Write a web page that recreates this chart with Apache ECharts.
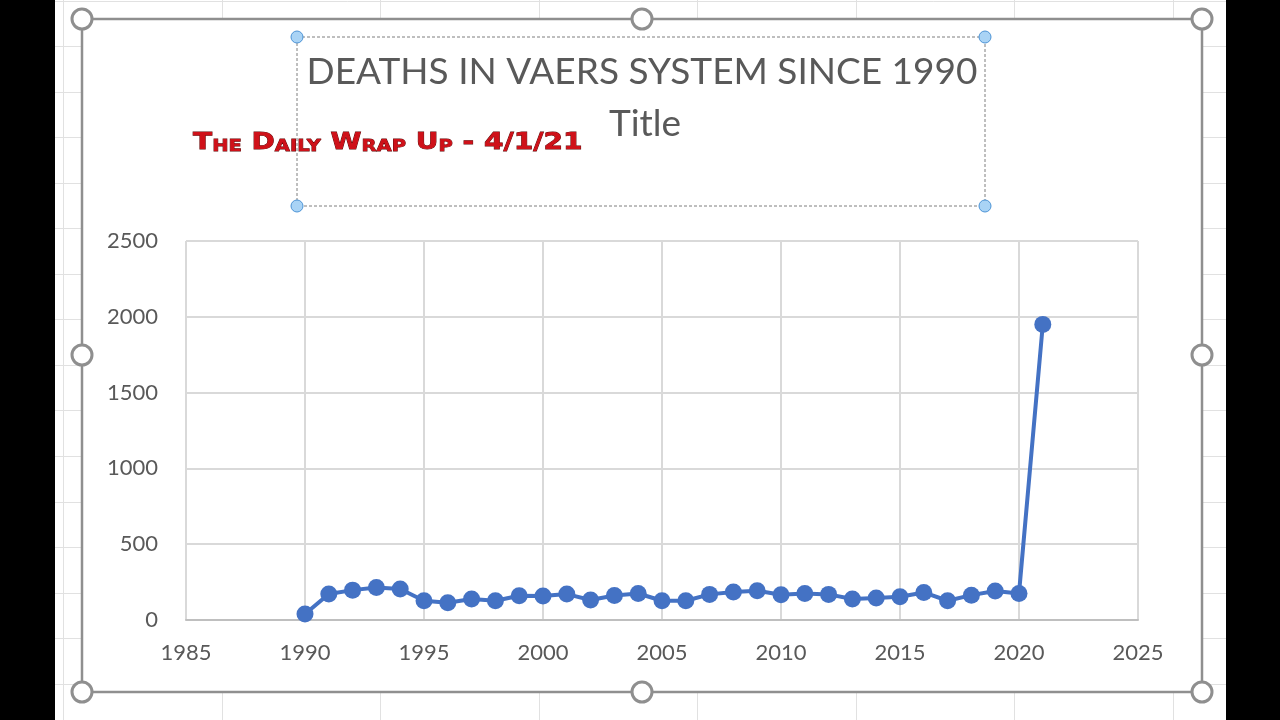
<!DOCTYPE html>
<html>
<head>
<meta charset="utf-8">
<script src="https://cdn.jsdelivr.net/npm/echarts@6/dist/echarts.min.js"></script>
<style>
html,body{margin:0;padding:0;background:#fff;}
#c{width:1280px;height:720px;}
</style>
</head>
<body>
<div id="c"></div>
<script>
// ---- data ----
const years = [1990,1991,1992,1993,1994,1995,1996,1997,1998,1999,2000,2001,2002,2003,2004,2005,2006,2007,2008,2009,2010,2011,2012,2013,2014,2015,2016,2017,2018,2019,2020,2021];
const deaths = [40,171,197,214,204,127,114,138,127,160,158,171,132,162,175,127,127,169,184,193,167,175,169,138,145,153,182,127,164,191,175,1950];
const titleText = 'DEATHS IN VAERS SYSTEM SINCE 1990';
const subTitleText = 'Title';
const xTicks = [1985, 2025, 5];
const yTicks = [0, 2500, 500];

const chart = echarts.init(document.getElementById('c'), null, {renderer:'canvas'});

const txtColor = '#595959';
const font = 'Lato, "Open Sans", sans-serif';

const g = [];
// black side bars
g.push({type:'rect', z:-20, shape:{x:0,y:0,width:55,height:720}, style:{fill:'#000'}});
g.push({type:'rect', z:-20, shape:{x:1226,y:0,width:54,height:720}, style:{fill:'#000'}});
// spreadsheet cells
for (let i = 0; i < 16; i++) {
  const y = Math.round(0.5 + i*45.55) + 0.5;
  g.push({type:'line', z:-19, shape:{x1:55,y1:y,x2:1226,y2:y}, style:{stroke:'#e1e1e1', lineWidth:1}});
}
[63,222,380,539,697,856,1014,1173].forEach(x => {
  g.push({type:'line', z:-19, shape:{x1:x+0.5,y1:0,x2:x+0.5,y2:720}, style:{stroke:'#e1e1e1', lineWidth:1}});
});
// chart area
g.push({type:'rect', z:-18, shape:{x:82,y:19,width:1120,height:673}, style:{fill:'#fff', stroke:'#8f8f8f', lineWidth:2.5}});
// title placeholder dashed box
g.push({type:'rect', z:5, shape:{x:297,y:37,width:688,height:169}, style:{fill:null, stroke:'#7f7f7f', lineWidth:1, lineDash:[3,2]}});
[[297,37],[985,37],[297,206],[985,206]].forEach(p => {
  g.push({type:'circle', z:6, shape:{cx:p[0],cy:p[1],r:6}, style:{fill:'#a9d3f5', stroke:'#4d94d6', lineWidth:1}});
});
// titles
g.push({type:'text', z:6, x:642, y:72, style:{text:titleText, font:'400 37px ' + font, fill:txtColor, align:'center', verticalAlign:'middle'}});
g.push({type:'text', z:6, x:645, y:124, style:{text:subTitleText, font:'400 37px ' + font, fill:txtColor, align:'center', verticalAlign:'middle'}});
// watermark text
const red = '#cf1119', edge = '#5a0000';
g.push({type:'text', z:7, x:193, y:143, scaleX:1.22, style:{
  text:'{b|T}{s|HE} {b|D}{s|AILY} {b|W}{s|RAP} {b|U}{s|P} {b|-} {b|4/1/21}',
  fontFamily:'DejaVu Sans', fontWeight:'bold', fontSize:23,
  fill:red, stroke:edge, lineWidth:0.8, verticalAlign:'middle', align:'left',
  rich:{
    b:{fontFamily:'DejaVu Sans', fontWeight:'bold', fontSize:23, fill:red, stroke:edge, lineWidth:0.8, verticalAlign:'bottom'},
    s:{fontFamily:'DejaVu Sans', fontWeight:'bold', fontSize:16, fill:red, stroke:edge, lineWidth:0.8, verticalAlign:'bottom'}
  }
}});
// chart-frame handles
[[82,19],[642,19],[1202,19],[82,355],[1202,355],[82,692],[642,692],[1202,692]].forEach(p => {
  g.push({type:'circle', z:8, shape:{cx:p[0],cy:p[1],r:10}, style:{fill:'#fff', stroke:'#8f8f8f', lineWidth:3}});
});

chart.setOption({
  animation:false,
  backgroundColor:'#fff',
  graphic:{elements:g},
  grid:{left:186, right:142, top:241, bottom:100, containLabel:false},
  xAxis:{
    type:'value', min:xTicks[0], max:xTicks[1], interval:xTicks[2],
    axisLine:{show:true, onZero:false, lineStyle:{color:'#bfbfbf', width:2}},
    axisTick:{show:false},
    splitLine:{show:true, lineStyle:{color:'#d9d9d9', width:2}},
    axisLabel:{color:txtColor, fontSize:22, fontFamily:font, margin:22, formatter:v=>String(v)}
  },
  yAxis:{
    type:'value', min:yTicks[0], max:yTicks[1], interval:yTicks[2],
    axisLine:{show:false}, axisTick:{show:false},
    splitLine:{show:true, lineStyle:{color:'#d9d9d9', width:2}},
    axisLabel:{color:txtColor, fontSize:22, fontFamily:font, margin:28, formatter:v=>String(v)}
  },
  series:[{
    type:'line',
    data: years.map((y,i)=>[y, deaths[i]]),
    symbol:'circle', symbolSize:17,
    lineStyle:{color:'#4472c4', width:4},
    itemStyle:{color:'#4472c4'},
    z:3
  }]
});
</script>
</body>
</html>
